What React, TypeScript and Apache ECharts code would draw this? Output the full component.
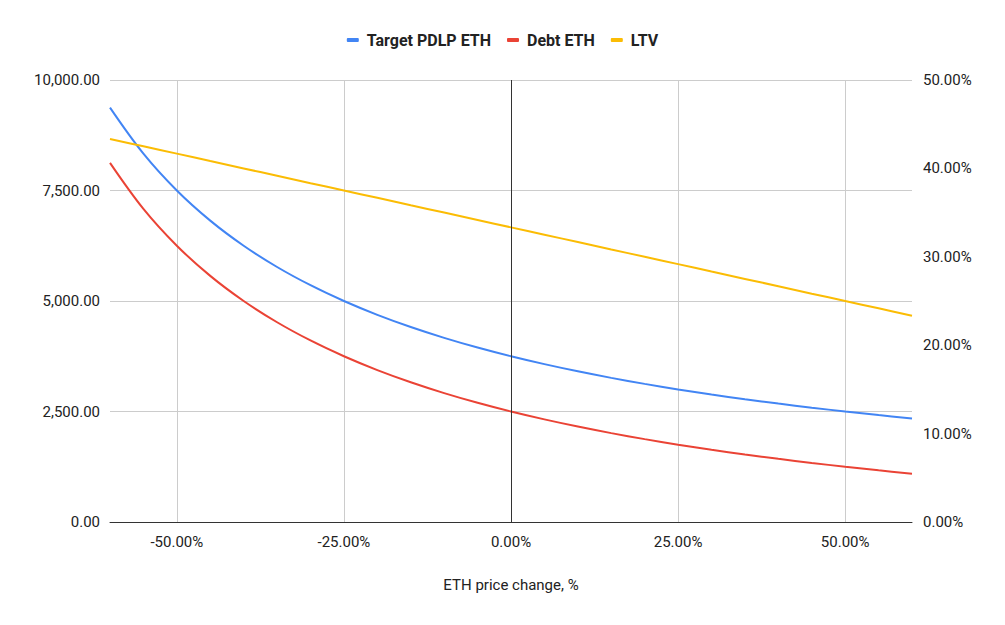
import { useEffect, useRef } from "react";
import * as echarts from "echarts";

const TEXT = "#222222";
const GRID = "#CCCCCC";
const AXIS = "#333333";
const FONT = "Roboto, 'Noto Sans', sans-serif";

// ETH price change, % (x)
const priceChange = [-60, -55, -50, -45, -40, -35, -30, -25, -20, -15, -10, -5, 0, 5, 10, 15, 20, 25, 30, 35, 40, 45, 50, 55, 60];
// left axis
const targetPdlpEth = [
  9375, 8333.33, 7500, 6818.18, 6250, 5769.23, 5357.14, 5000, 4687.5, 4411.76, 4166.67, 3947.37, 3750,
  3571.43, 3409.09, 3260.87, 3125, 3000, 2884.62, 2777.78, 2678.57, 2586.21, 2500, 2419.35, 2343.75,
];
const debtEth = [
  8125, 7083.33, 6250, 5568.18, 5000, 4519.23, 4107.14, 3750, 3437.5, 3161.76, 2916.67, 2697.37, 2500,
  2321.43, 2159.09, 2010.87, 1875, 1750, 1634.62, 1527.78, 1428.57, 1336.21, 1250, 1169.35, 1093.75,
];
// right axis, %
const ltv = [
  43.33, 42.5, 41.67, 40.83, 40, 39.17, 38.33, 37.5, 36.67, 35.83, 35, 34.17, 33.33,
  32.5, 31.67, 30.83, 30, 29.17, 28.33, 27.5, 26.67, 25.83, 25, 24.17, 23.33,
];
const xTicks = [-50, -25, 0, 25, 50];

const pairs = (ys: number[]) => priceChange.map((x, i) => [x, ys[i]]);
const pct = (v: number) => v.toFixed(2) + "%";
const num = (v: number) => v.toLocaleString("en-US", { minimumFractionDigits: 2, maximumFractionDigits: 2 });

export default function App() {
  const ref = useRef<HTMLDivElement>(null);

  useEffect(() => {
    document.body.style.margin = "0";
    if (!ref.current) return;
    const chart = echarts.init(ref.current, undefined, { renderer: "svg" });
    const lineSeries = (name: string, data: number[], color: string, yAxisIndex = 0) => ({
      name,
      type: "line" as const,
      data: pairs(data),
      yAxisIndex,
      showSymbol: false,
      smooth: 0.35,
      lineStyle: { width: 2, color },
      itemStyle: { color },
      z: 3,
    });

    chart.setOption({
      animation: false,
      backgroundColor: "#FFFFFF",
      textStyle: { fontFamily: FONT },
      legend: {
        top: 27,
        left: "center",
        data: ["Target PDLP ETH", "Debt ETH", "LTV"],
        icon: "roundRect",
        itemWidth: 12,
        itemHeight: 4,
        itemGap: 16,
        textStyle: { color: TEXT, fontSize: 16, fontWeight: "bold", fontFamily: FONT, padding: [0, 0, 0, 3] },
      },
      grid: { left: 110, right: 93, top: 80, bottom: 103, containLabel: false },
      xAxis: {
        type: "value",
        min: -60,
        max: 60,
        name: "ETH price change, %",
        nameLocation: "middle",
        nameGap: 55,
        nameTextStyle: { color: TEXT, fontSize: 15, fontFamily: FONT },
        axisLine: { show: true, onZero: false, lineStyle: { color: AXIS, width: 1 } },
        axisTick: { show: false, customValues: xTicks },
        axisLabel: { color: TEXT, fontSize: 15, margin: 12, fontFamily: FONT, customValues: xTicks, formatter: pct },
        splitLine: { show: true, lineStyle: { color: GRID, width: 1 } },
      },
      yAxis: [
        {
          type: "value",
          min: 0,
          max: 10000,
          interval: 2500,
          axisLine: { show: false },
          axisTick: { show: false },
          axisLabel: { color: TEXT, fontSize: 15, margin: 10, fontFamily: FONT, formatter: num },
          splitLine: { show: true, lineStyle: { color: GRID, width: 1 } },
        },
        {
          type: "value",
          min: 0,
          max: 50,
          interval: 10,
          position: "right",
          axisLine: { show: false },
          axisTick: { show: false },
          axisLabel: { color: TEXT, fontSize: 15, margin: 11, fontFamily: FONT, formatter: pct },
          splitLine: { show: false },
        },
      ],
      series: [
        {
          name: "zero",
          type: "line",
          data: [],
          z: 1,
          markLine: {
            symbol: "none",
            silent: true,
            animation: false,
            label: { show: false },
            lineStyle: { color: AXIS, type: "solid", width: 1 },
            data: [{ xAxis: 0 }],
          },
        },
        lineSeries("Target PDLP ETH", targetPdlpEth, "#4285F4"),
        lineSeries("Debt ETH", debtEth, "#EA4335"),
        lineSeries("LTV", ltv, "#FBBC04", 1),
      ],
    });

    return () => {
      chart.dispose();
    };
  }, []);

  return <div ref={ref} style={{ width: 1005, height: 625 }} />;
}
